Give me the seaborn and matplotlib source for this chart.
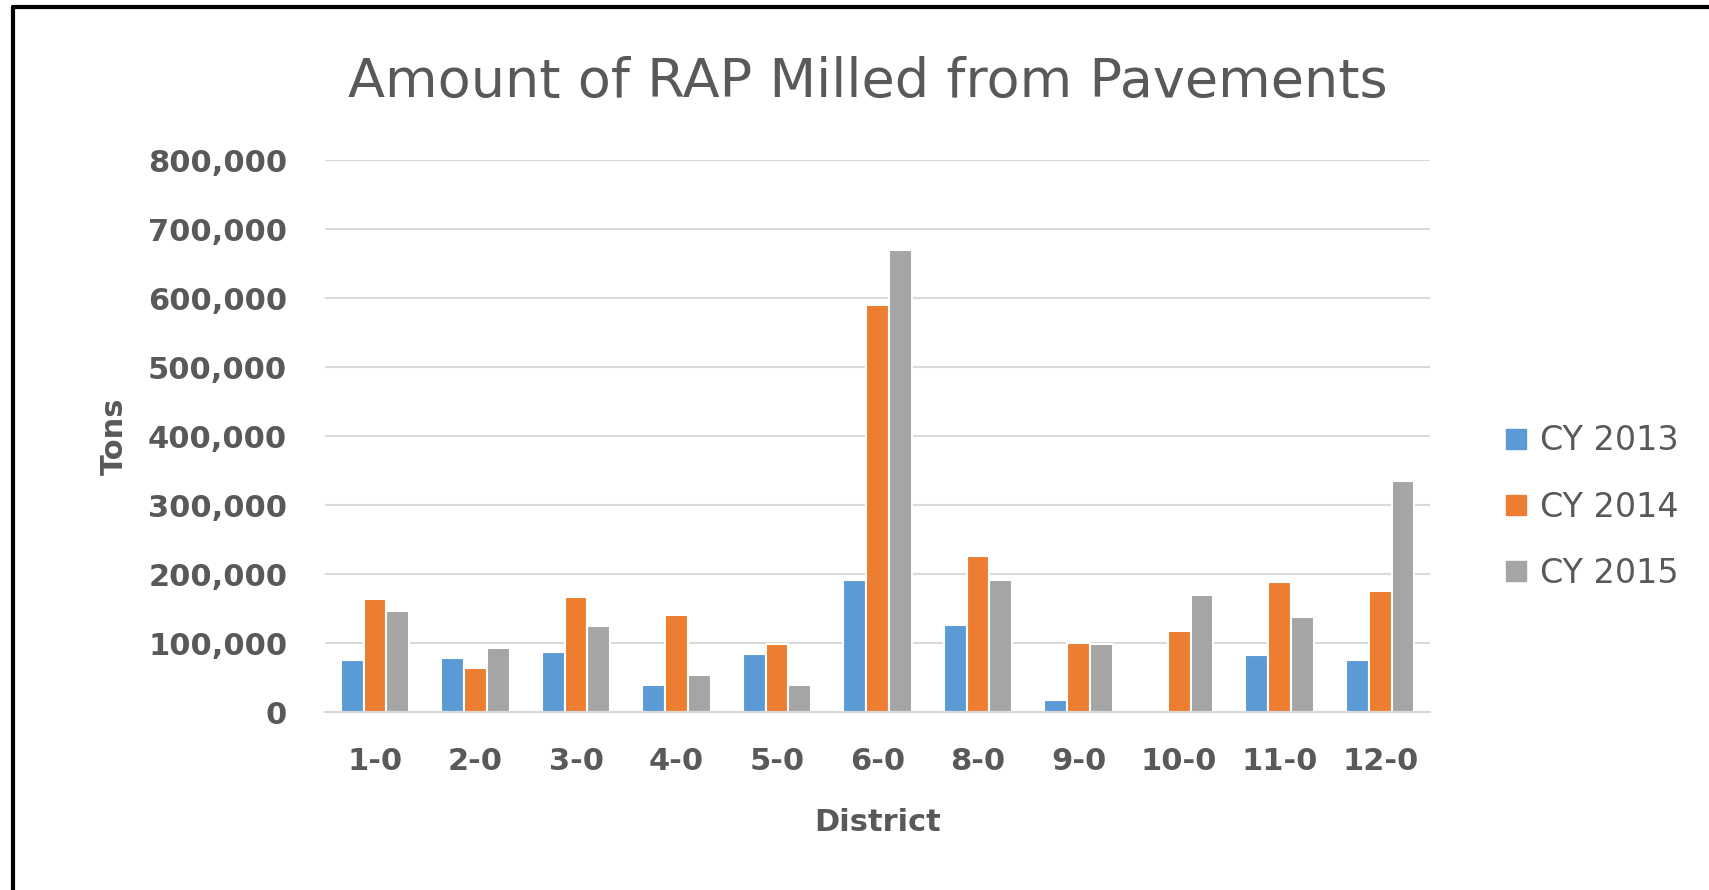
import pandas as pd
import seaborn as sns
import matplotlib.pyplot as plt
from matplotlib.lines import Line2D
from matplotlib.ticker import FuncFormatter

districts = ["1-0", "2-0", "3-0", "4-0", "5-0", "6-0", "8-0", "9-0", "10-0", "11-0", "12-0"]
cy2013 = [75000, 79000, 87000, 39000, 84000, 192000, 126000, 17000, 0, 83000, 75000]
cy2014 = [164000, 64000, 167000, 141000, 99000, 590000, 226000, 100000, 118000, 189000, 175000]
cy2015 = [147000, 93000, 124000, 53000, 39000, 670000, 192000, 98000, 169000, 138000, 335000]
years = ["CY 2013", "CY 2014", "CY 2015"]
colors = ["#5B9BD5", "#ED7D31", "#A5A5A5"]

df = pd.DataFrame({
    "District": districts * 3,
    "Tons": cy2013 + cy2014 + cy2015,
    "Year": [years[0]] * 11 + [years[1]] * 11 + [years[2]] * 11,
})

txt = "#595959"
sns.set_style("white")
plt.rcParams["font.family"] = ["DejaVu Sans"]

fig = plt.figure(figsize=(17.09, 8.9), dpi=100)
ax = fig.add_axes([0.19, 0.2, 0.647, 0.62])

sns.barplot(data=df, x="District", y="Tons", hue="Year", palette=colors,
            saturation=1, width=0.68, edgecolor="white", linewidth=1.5,
            ax=ax, legend=False)

ax.set_ylim(0, 800000)
ax.set_yticks(range(0, 800001, 100000))
ax.yaxis.set_major_formatter(FuncFormatter(lambda v, p: f"{int(v):,}"))
ax.grid(axis="y", color="#D9D9D9", linewidth=1.5)
ax.set_axisbelow(True)
for s in ["top", "right", "left"]:
    ax.spines[s].set_visible(False)
ax.spines["bottom"].set_color("#D9D9D9")
ax.spines["bottom"].set_linewidth(1.5)
ax.tick_params(axis="both", length=0, colors=txt, labelsize=22)
ax.tick_params(axis="y", pad=27)
ax.tick_params(axis="x", pad=25)
for lab in ax.get_xticklabels() + ax.get_yticklabels():
    lab.set_fontweight("bold")

ax.set_xlabel("District", fontsize=22, fontweight="bold", color=txt, labelpad=23)
ax.set_ylabel("Tons", fontsize=22, fontweight="bold", color=txt, labelpad=14)

fig.text(0.508, 0.908, "Amount of RAP Milled from Pavements", fontsize=39,
         color=txt, ha="center", va="center")

handles = [Line2D([], [], marker="s", linestyle="none", markersize=15,
                  markerfacecolor=c, markeredgecolor=c) for c in colors]
fig.legend(handles, years, loc="center left", bbox_to_anchor=(0.862, 0.43),
           frameon=False, fontsize=24, labelcolor=txt, handletextpad=0.3,
           labelspacing=1.0, handlelength=0.8)

# chart frame: black line on the left and top edges
fig.add_artist(Line2D([0.0075, 0.0075], [0, 0.992], transform=fig.transFigure,
                      color="black", linewidth=3))
fig.add_artist(Line2D([0.0075, 1], [0.992, 0.992], transform=fig.transFigure,
                      color="black", linewidth=3))

fig.savefig("out.png", dpi=100, facecolor="white")
